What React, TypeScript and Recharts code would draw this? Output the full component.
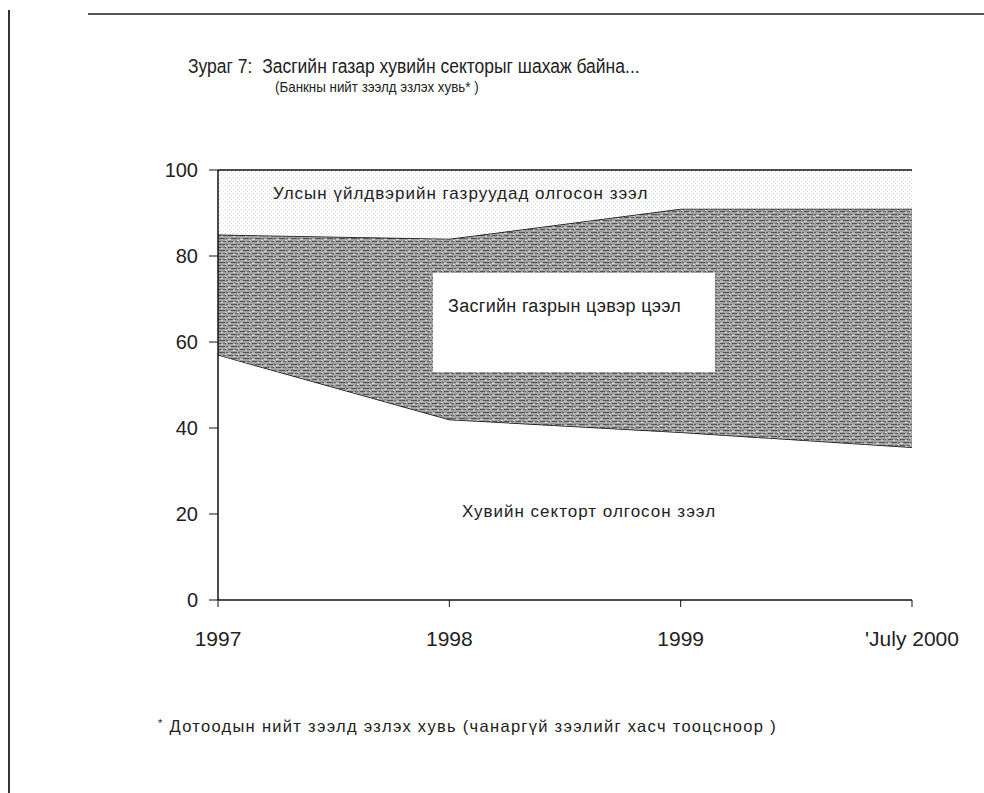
import React from 'react';
import { AreaChart, Area, XAxis, YAxis } from 'recharts';

const YEARS = ['1997', '1998', '1999', "'July 2000"];
const PRIVATE_LOANS = [57, 42, 39, 35.5];
const GOVT_NET_LOANS = [28, 42, 52, 55.5];
const SOE_LOANS = [15, 16, 9, 9];
const Y_TICKS = [0, 20, 40, 60, 80, 100];

const data = YEARS.map((year, i) => ({
  year,
  privateLoans: PRIVATE_LOANS[i],
  govtNet: GOVT_NET_LOANS[i],
  soe: SOE_LOANS[i],
}));

const FONT = '"Liberation Sans", Arial, sans-serif';
const INK = '#222';

const abs = (left: number, top: number, extra: React.CSSProperties = {}): React.CSSProperties => ({
  position: 'absolute',
  left,
  top,
  fontFamily: FONT,
  color: INK,
  whiteSpace: 'nowrap',
  ...extra,
});

export default function App() {
  return (
    <div style={{ position: 'absolute', left: 0, top: 0, width: 984, height: 793, background: '#fff', overflow: 'hidden' }}>
      {/* page edges from the scan */}
      <div style={{ position: 'absolute', left: 8, top: 10, width: 2, height: 783, background: '#333' }} />
      <div style={{ position: 'absolute', left: 88, top: 13, width: 896, height: 2, background: '#555' }} />

      <div style={abs(188, 55, { fontSize: 20, transform: 'scaleX(0.875)', transformOrigin: 'left' })}>
        Зураг 7:&nbsp; Засгийн газар хувийн секторыг шахаж байна...
      </div>
      <div style={abs(275, 78, { fontSize: 15, transform: 'scaleX(0.89)', transformOrigin: 'left' })}>
        (Банкны нийт зээлд эзлэх хувь* )
      </div>

      <div style={{ position: 'absolute', left: 0, top: 0 }}>
        <AreaChart width={984} height={793} data={data} margin={{ top: 170, right: 72, left: 0, bottom: 0 }}>
          <defs>
            <pattern id="govtTexture" width="12" height="6" patternUnits="userSpaceOnUse">
              <rect width="12" height="6" fill="#a0a0a0" />
              <rect x="0" y="1" width="5" height="1" fill="#555" />
              <rect x="7" y="1" width="3" height="1" fill="#666" />
              <rect x="3" y="4" width="6" height="1" fill="#555" />
              <rect x="10" y="4" width="2" height="1" fill="#666" />
              <rect x="5" y="2" width="2" height="1" fill="#d2d2d2" />
              <rect x="0" y="5" width="3" height="1" fill="#d2d2d2" />
              <rect x="9" y="0" width="2" height="1" fill="#cfcfcf" />
            </pattern>
            <pattern id="soeDots" width="4" height="4" patternUnits="userSpaceOnUse">
              <rect width="4" height="4" fill="#fff" />
              <rect x="1" y="1" width="1" height="1" fill="#d0d0d0" />
              <rect x="3" y="3" width="1" height="1" fill="#dcdcdc" />
            </pattern>
          </defs>
          <XAxis
            dataKey="year"
            height={193}
            interval={0}
            tickSize={7}
            tickMargin={24}
            axisLine={{ stroke: '#111', strokeWidth: 1.5 }}
            tickLine={{ stroke: '#111' }}
            tick={{ fill: INK, fontSize: 21, fontFamily: FONT }}
          />
          <YAxis
            width={218}
            domain={[0, 100]}
            ticks={Y_TICKS}
            tickSize={9}
            tickMargin={11}
            axisLine={{ stroke: '#111', strokeWidth: 1.5 }}
            tickLine={{ stroke: '#111' }}
            tick={{ fill: INK, fontSize: 20, fontFamily: FONT }}
          />
          <YAxis
            yAxisId="right"
            orientation="right"
            width={0}
            tick={false}
            tickLine={false}
            axisLine={{ stroke: '#111', strokeWidth: 1.5 }}
          />
          <Area
            type="linear"
            dataKey="privateLoans"
            stackId="a"
            fill="#fff"
            fillOpacity={1}
            stroke="#111"
            strokeWidth={1.5}
            isAnimationActive={false}
          />
          <Area
            type="linear"
            dataKey="govtNet"
            stackId="a"
            fill="url(#govtTexture)"
            fillOpacity={1}
            stroke="#111"
            strokeWidth={1.5}
            isAnimationActive={false}
          />
          <Area
            type="linear"
            dataKey="soe"
            stackId="a"
            fill="url(#soeDots)"
            fillOpacity={1}
            stroke="#111"
            strokeWidth={1.5}
            isAnimationActive={false}
          />
        </AreaChart>
      </div>

      {/* area labels */}
      <div style={abs(273, 184, { fontSize: 17, letterSpacing: 1 })}>Улсын үйлдвэрийн газруудад олгосон зээл</div>
      <div style={{ position: 'absolute', left: 433, top: 273, width: 282, height: 99, background: '#fff' }} />
      <div style={abs(448, 296, { fontSize: 18, letterSpacing: 0.3 })}>Засгийн газрын цэвэр цээл</div>
      <div style={abs(462, 502, { fontSize: 17, letterSpacing: 1 })}>Хувийн секторт олгосон зээл</div>

      <div style={abs(158, 717, { fontSize: 16.5, letterSpacing: 1.3 })}>
        <span style={{ fontSize: 11, verticalAlign: 'top' }}>*</span> Дотоодын нийт зээлд эзлэх хувь (чанаргүй зээлийг хасч тооцсноор )
      </div>
    </div>
  );
}
